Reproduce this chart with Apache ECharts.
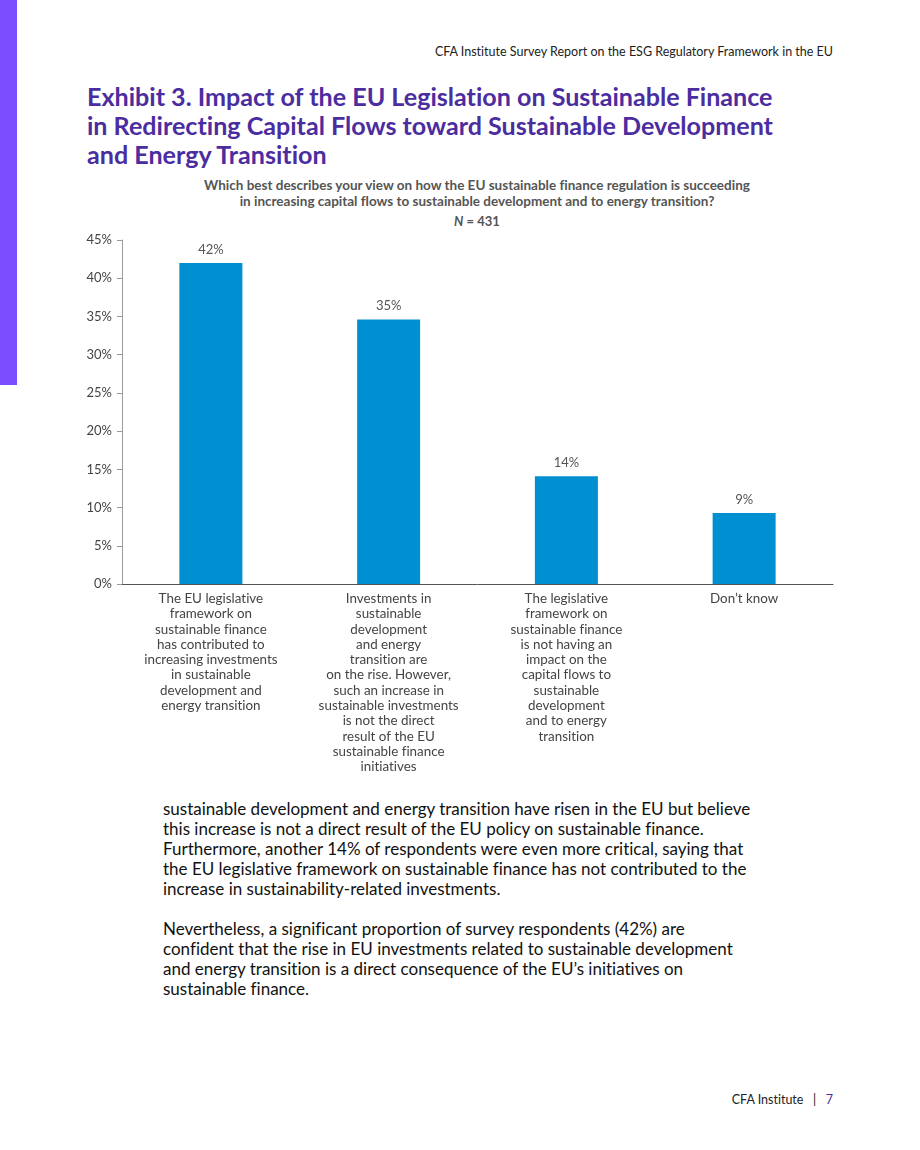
<!DOCTYPE html>
<html><head><meta charset="utf-8">
<script src="https://cdn.jsdelivr.net/npm/echarts@6/dist/echarts.min.js"></script>
<style>
html,body{margin:0;padding:0;background:#fff;}
body{width:920px;height:1150px;position:relative;overflow:hidden;font-family:Lato,"Open Sans",sans-serif;font-variant-ligatures:none;}
#strip{position:absolute;left:0;top:0;width:17px;height:385px;background:#7b4dff;}
#hdr{position:absolute;right:87px;top:44px;font-size:12.5px;color:#222;}
#title{position:absolute;left:87px;top:82px;font-size:25.1px;line-height:29px;font-weight:bold;color:#4b2d9f;}
#sub{position:absolute;left:0;width:954px;top:178px;text-align:center;font-size:13.5px;line-height:15.5px;font-weight:bold;color:#555;}
#n{position:absolute;left:0;width:954px;top:213px;text-align:center;font-size:13px;font-weight:bold;color:#555;}
#chart{position:absolute;left:0;top:230px;width:920px;height:560px;}
#body{position:absolute;left:163px;top:799px;width:700px;font-size:17px;line-height:20px;color:#111;white-space:nowrap;}
#body p{margin:0 0 20px 0;}
#foot{position:absolute;right:87px;top:1092px;font-size:12.5px;color:#222;}
#foot .pg{color:#4b2d9f;}
</style></head>
<body>
<div id="strip"></div>
<div id="hdr">CFA Institute Survey Report on the ESG Regulatory Framework in the EU</div>
<div id="title">Exhibit 3. Impact of the EU Legislation on Sustainable Finance<br>in Redirecting Capital Flows toward Sustainable Development<br>and Energy Transition</div>
<div id="sub">Which best describes your view on how the EU sustainable finance regulation is succeeding<br>in increasing capital flows to sustainable development and to energy transition?</div>
<div id="n"><i>N</i> = 431</div>
<div id="chart"></div>
<div id="body"><p>sustainable development and energy transition have risen in the EU but believe<br>this increase is not a direct result of the EU policy on sustainable finance.<br>Furthermore, another 14% of respondents were even more critical, saying that<br>the EU legislative framework on sustainable finance has not contributed to the<br>increase in sustainability-related investments.</p><p>Nevertheless, a significant proportion of survey respondents (42%) are<br>confident that the rise in EU investments related to sustainable development<br>and energy transition is a direct consequence of the EU’s initiatives on<br>sustainable finance.</p></div>
<div id="foot">CFA Institute &nbsp;&nbsp;|&nbsp;&nbsp; <span class="pg">7</span></div>
<script>
var categories = [
  "The EU legislative\nframework on\nsustainable finance\nhas contributed to\nincreasing investments\nin sustainable\ndevelopment and\nenergy transition",
  "Investments in\nsustainable\ndevelopment\nand energy\ntransition are\non the rise. However,\nsuch an increase in\nsustainable investments\nis not the direct\nresult of the EU\nsustainable finance\ninitiatives",
  "The legislative\nframework on\nsustainable finance\nis not having an\nimpact on the\ncapital flows to\nsustainable\ndevelopment\nand to energy\ntransition",
  "Don’t know"
];
var values = [42.0, 34.6, 14.1, 9.3];
var valueLabels = ["42%", "35%", "14%", "9%"];
var yTicks = {min: 0, max: 45, interval: 5};

var chart = echarts.init(document.getElementById('chart'));
chart.setOption({
  animation: false,
  textStyle: {fontFamily: 'Lato, "Open Sans", sans-serif'},
  grid: {left: 122, right: 87, top: 10, bottom: 206},
  xAxis: {
    type: 'category', data: categories,
    axisLine: {lineStyle: {color: '#555', width: 1}},
    axisTick: {show: false},
    axisLabel: {interval: 0, color: '#444', fontSize: 13.4, lineHeight: 15.3, margin: 7, align: 'center', verticalAlign: 'top'}
  },
  yAxis: {
    type: 'value', min: yTicks.min, max: yTicks.max, interval: yTicks.interval,
    axisLine: {show: true, lineStyle: {color: '#999'}},
    axisTick: {show: true, length: 5, lineStyle: {color: '#999'}},
    splitLine: {show: false},
    axisLabel: {formatter: '{value}%', color: '#444', fontSize: 13, margin: 10}
  },
  series: [{
    type: 'bar', data: values, barWidth: 63,
    itemStyle: {color: '#008fd0'},
    label: {show: true, position: 'top', distance: 7, color: '#555', fontSize: 13,
      formatter: function(p){ return valueLabels[p.dataIndex]; }}
  }]
});
</script>
</body></html>
